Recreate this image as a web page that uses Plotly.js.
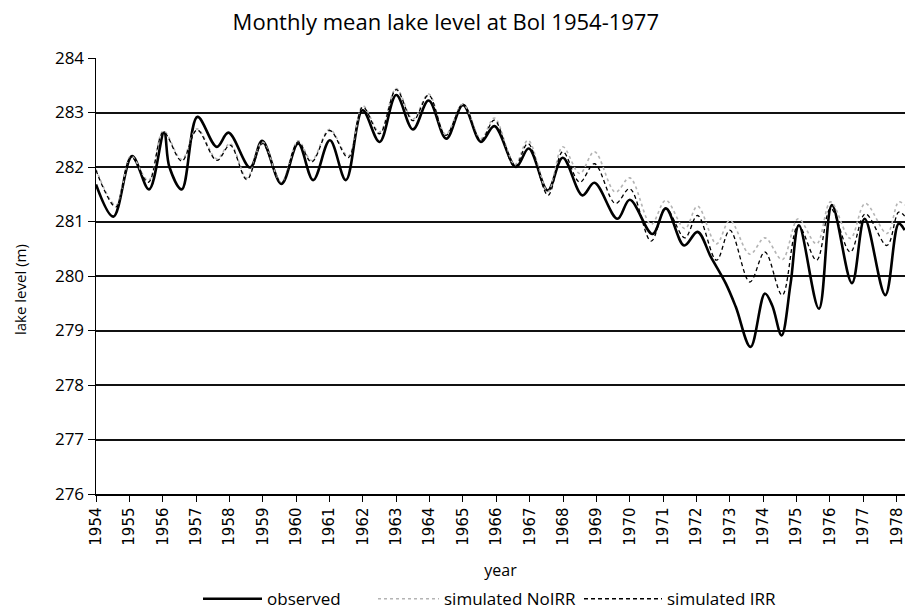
<!DOCTYPE html>
<html>
<head>
<meta charset="utf-8">
<script src="https://cdn.plot.ly/plotly-3.0.1.min.js"></script>
<style>html,body{margin:0;padding:0;background:#fff;}#chart{width:908px;height:610px;}</style>
</head>
<body>
<div id="chart"></div>
<script>
// Observed lake level: turning points (decimal year, m)
const obsYear = [1954.0, 1954.52, 1955.08, 1955.59, 1956.04, 1956.2, 1956.57, 1957.04, 1957.62, 1957.97,
  1958.62, 1958.98, 1959.56, 1960.06, 1960.51, 1961.01, 1961.49, 1961.99, 1962.5, 1963.0,
  1963.5, 1963.97, 1964.5, 1965.0, 1965.54, 1965.94, 1966.59, 1966.97, 1967.54, 1967.99,
  1968.58, 1968.94, 1969.63, 1970.0, 1970.68, 1971.08, 1971.63, 1972.03, 1972.43, 1972.88,
  1973.18, 1973.62, 1974.05, 1974.27, 1974.55, 1974.82, 1975.07, 1975.67, 1976.06, 1976.66,
  1977.04, 1977.66, 1978.06, 1978.24];
const obsVal = [281.68, 281.09, 282.2, 281.59, 282.63, 282.0, 281.59, 282.92, 282.37, 282.63,
  281.99, 282.48, 281.69, 282.43, 281.76, 282.49, 281.76, 283.04, 282.46, 283.32,
  282.69, 283.22, 282.52, 283.14, 282.46, 282.75, 282.0, 282.34, 281.57, 282.17,
  281.48, 281.71, 281.05, 281.4, 280.77, 281.24, 280.56, 280.81, 280.35, 279.86,
  279.43, 278.70, 279.68, 279.46, 278.91, 279.86, 280.93, 279.40, 281.30, 279.87,
  281.05, 279.65, 280.96, 280.84];

// Simulated series: turning points
const simYear = [1954.0, 1954.6, 1955.05, 1955.57, 1956.02, 1956.57, 1957.03, 1957.62, 1958.02, 1958.52,
  1958.99, 1959.55, 1960.06, 1960.46, 1961.0, 1961.56, 1962.0, 1962.5, 1963.0, 1963.5,
  1963.97, 1964.48, 1965.0, 1965.54, 1965.94, 1966.55, 1966.95, 1967.55, 1967.99, 1968.5,
  1968.94, 1969.57, 1970.0, 1970.64, 1971.08, 1971.65, 1972.03, 1972.6, 1973.0, 1973.6,
  1974.05, 1974.57, 1975.05, 1975.6, 1976.02, 1976.61, 1977.06, 1977.71, 1978.06, 1978.24];
const irrVal = [281.94, 281.27, 282.18, 281.72, 282.64, 282.11, 282.68, 282.12, 282.40, 281.77,
  282.43, 281.70, 282.46, 282.09, 282.67, 282.17, 283.10, 282.61, 283.42, 282.85,
  283.32, 282.58, 283.13, 282.49, 282.86, 282.0, 282.43, 281.48, 282.28, 281.72,
  282.06, 281.33, 281.60, 280.64, 281.24, 280.70, 281.11, 280.29, 280.84, 279.89,
  280.44, 279.65, 280.93, 280.29, 281.24, 280.44, 281.14, 280.56, 281.17, 281.10];
const noIrrVal = [281.96, 281.3, 282.2, 281.75, 282.66, 282.14, 282.7, 282.15, 282.43, 281.8,
  282.46, 281.72, 282.48, 282.12, 282.69, 282.2, 283.12, 282.64, 283.44, 282.88,
  283.34, 282.6, 283.15, 282.52, 282.9, 282.04, 282.49, 281.55, 282.37, 281.88,
  282.28, 281.54, 281.80, 280.95, 281.39, 280.87, 281.28, 280.59, 281.02, 280.40,
  280.70, 280.30, 281.05, 280.59, 281.36, 280.69, 281.33, 280.78, 281.36, 281.30];

const seriesNames = ['observed', 'simulated NoIRR', 'simulated IRR'];
const yearTicks = [1954,1955,1956,1957,1958,1959,1960,1961,1962,1963,1964,1965,1966,1967,1968,1969,1970,1971,1972,1973,1974,1975,1976,1977,1978];

const traces = [
  {x: obsYear, y: obsVal, name: seriesNames[0], type: 'scatter', mode: 'lines', legend: 'legend',
   line: {color: '#000', width: 2.6, shape: 'spline', smoothing: 1}},
  {x: simYear, y: noIrrVal, name: seriesNames[1], type: 'scatter', mode: 'lines', legend: 'legend2',
   line: {color: '#b4b4b4', width: 1.6, dash: 'dot', shape: 'spline', smoothing: 1}},
  {x: simYear, y: irrVal, name: seriesNames[2], type: 'scatter', mode: 'lines', legend: 'legend3',
   line: {color: '#000', width: 1.3, dash: '4px,3px', shape: 'spline', smoothing: 1}}
];

const pw = 809;
function legendAt(px, w) {
  return {orientation: 'h', x: (px - 96) / pw, xanchor: 'left', y: -0.2, yanchor: 'top',
          font: {family: 'Open Sans, sans-serif', size: 17, color: '#000'}, itemwidth: w,
          bgcolor: 'rgba(0,0,0,0)'};
}

const layout = {
  width: 908, height: 610,
  margin: {l: 96, r: 3, t: 58, b: 116, autoexpand: false},
  paper_bgcolor: '#fff', plot_bgcolor: '#fff',
  font: {family: 'DejaVu Sans, sans-serif', color: '#000'},
  title: {text: 'Monthly mean lake level at Bol 1954-1977', x: 0.491, xanchor: 'center',
          y: 0.964, yanchor: 'middle',
          font: {family: 'Open Sans, sans-serif', size: 22, color: '#000'}},
  xaxis: {range: [1954, 1978.25], tickvals: yearTicks, ticktext: yearTicks.map(String),
          tickangle: -90, ticks: 'outside', ticklen: 6, tickcolor: '#000', tickwidth: 1,
          showgrid: false, zeroline: false, showline: true, linecolor: '#000', linewidth: 1.5,
          automargin: false,
          tickfont: {family: 'DejaVu Sans, sans-serif', size: 15},
          title: {text: 'year', font: {family: 'Open Sans, sans-serif', size: 16}, standoff: 20}},
  yaxis: {range: [276, 284], dtick: 1, tick0: 276, ticks: 'outside', ticklen: 7, tickcolor: '#000',
          showgrid: true, gridcolor: '#111', gridwidth: 2, zeroline: false,
          showline: true, linecolor: '#000', linewidth: 1.5, automargin: false,
          tickfont: {family: 'Open Sans, sans-serif', size: 17}},
  annotations: [{text: 'lake level (m)', xref: 'paper', yref: 'paper',
                 x: (20 - 96) / 809, y: (494 - 290) / 436, xanchor: 'center', yanchor: 'middle',
                 textangle: -90, showarrow: false,
                 font: {family: 'Open Sans, sans-serif', size: 15, color: '#000'}}],
  showlegend: true,
  legend: legendAt(198, 59),
  legend2: legendAt(373, 61),
  legend3: legendAt(579, 78)
};

Plotly.newPlot('chart', traces, layout, {displayModeBar: false, staticPlot: true});
</script>
</body>
</html>
